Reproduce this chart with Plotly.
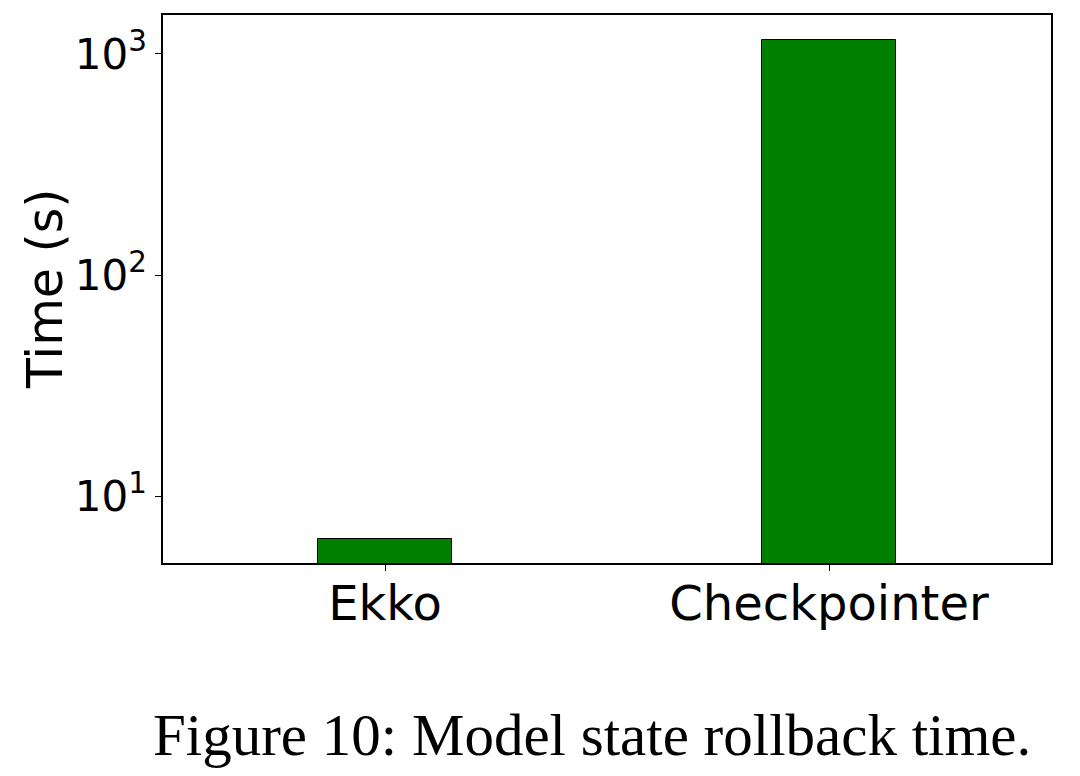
import plotly.graph_objects as go

# data
systems = ["Ekko", "Checkpointer"]
rollback_time_s = [6.4, 1155]
ytick_vals = [10, 100, 1000]
ytick_text = ["10<sup>1</sup>", "10<sup>2</sup>", "10<sup>3</sup>"]

FONT = "DejaVu Sans"

fig = go.Figure(go.Bar(
    x=systems, y=rollback_time_s, width=0.3,
    marker=dict(color="#008000", line=dict(color="black", width=1)),
))

# page body adds an 8px margin, so the figure is shrunk by that much
fig.update_layout(
    width=1072, height=768,
    margin=dict(l=155, r=29, t=5, b=213),
    paper_bgcolor="white", plot_bgcolor="white",
    showlegend=False, bargap=0,
    font=dict(family=FONT, color="black"),
)
fig.update_xaxes(
    range=[-0.5, 1.5], showline=True, linecolor="black", linewidth=1.5,
    mirror=True, ticks="outside", ticklen=6, tickcolor="black",
    tickfont=dict(size=48, family=FONT), showgrid=False,
    ticklabelstandoff=-8,
)
fig.update_yaxes(
    type="log", range=[0.699, 3.176], showline=True, linecolor="black",
    linewidth=1.5, mirror=True, ticks="outside", ticklen=6, tickcolor="black",
    tickvals=ytick_vals, ticktext=ytick_text,
    tickfont=dict(size=42, family=FONT), showgrid=False,
)

# y axis title placed by hand to sit where matplotlib put it
fig.add_annotation(
    text="Time (s)", textangle=-90, x=-0.133, y=0.5, xref="paper", yref="paper",
    xanchor="center", yanchor="middle", showarrow=False,
    font=dict(size=49, family=FONT),
)
# figure caption
fig.add_annotation(
    text="Figure 10: Model state rollback time.", x=0.483, y=-0.313,
    xref="paper", yref="paper", xanchor="center", yanchor="middle",
    showarrow=False, font=dict(size=59, family="Liberation Serif"),
)

fig.write_html("out.html")
